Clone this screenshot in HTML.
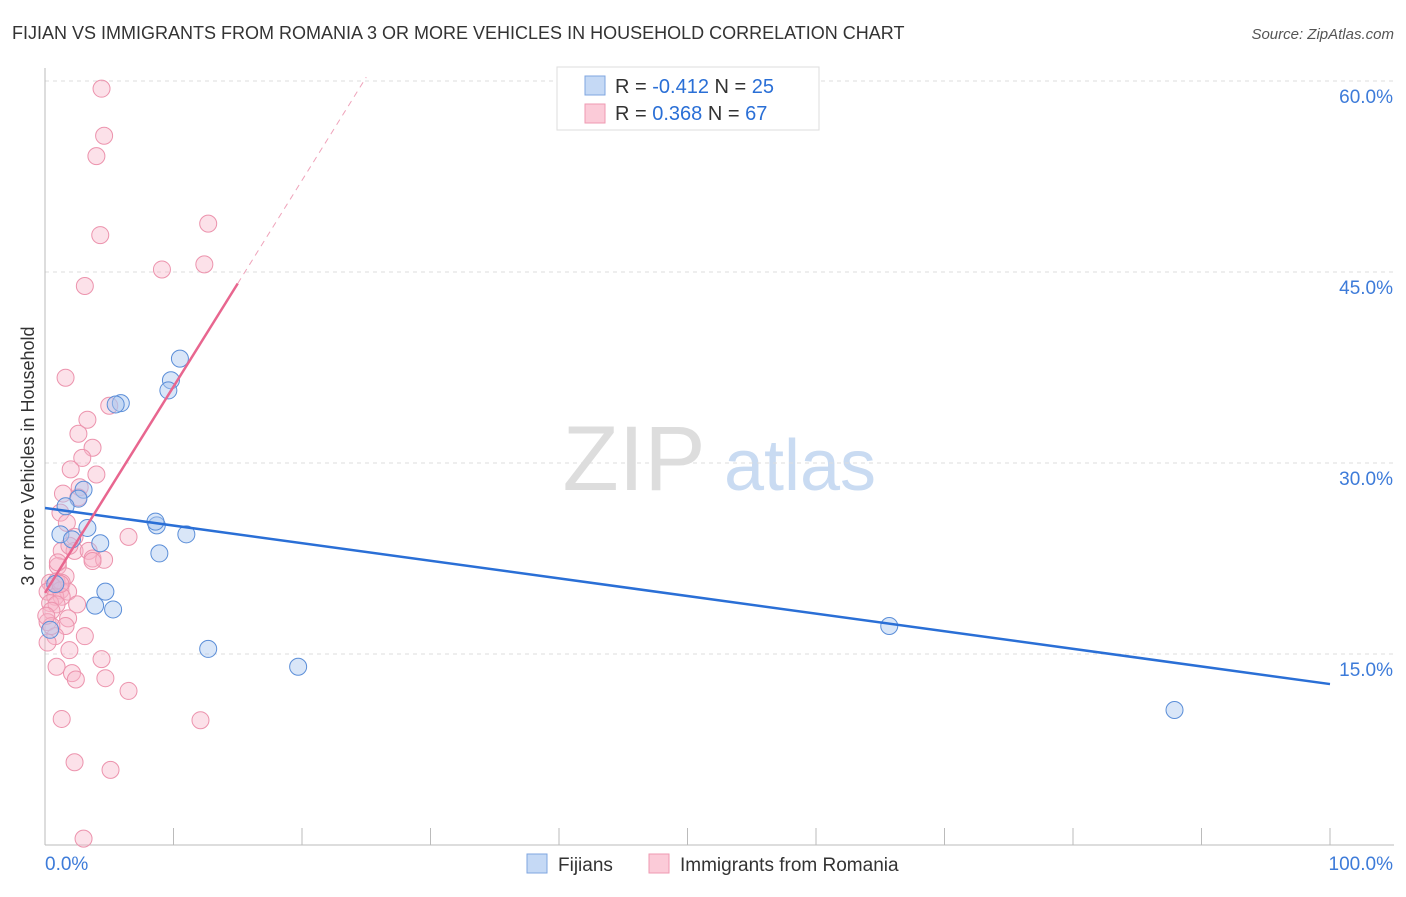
<!DOCTYPE html>
<html><head><meta charset="utf-8"><style>
body{margin:0;background:#fff;font-family:"Liberation Sans",sans-serif}
svg text{font-family:"Liberation Sans",sans-serif}
</style></head><body>
<svg id="chart" width="1406" height="892" xmlns="http://www.w3.org/2000/svg">
<text x="12" y="39" font-size="18" fill="#333">FIJIAN VS IMMIGRANTS FROM ROMANIA 3 OR MORE VEHICLES IN HOUSEHOLD CORRELATION CHART</text>
<text x="1394" y="39" font-size="15" fill="#555" font-style="italic" text-anchor="end">Source: ZipAtlas.com</text>
<text transform="translate(34,456) rotate(-90)" font-size="18" fill="#333" text-anchor="middle">3 or more Vehicles in Household</text>
<g>
<text x="634" y="490" font-size="92" fill="#ddd" font-family="Liberation Serif,serif" text-anchor="middle">ZIP</text>
<text x="800" y="490" font-size="72" fill="#c9dbf2" text-anchor="middle">atlas</text>
</g>
<g id="grid"></g><g id="axes"></g><g id="marks"></g>
<g>
<rect x="557" y="67" width="262" height="63" fill="#fff" stroke="#ddd"/>
<rect x="585" y="76" width="20" height="19" fill="#c5d9f5" stroke="#7fa6e0"/>
<rect x="585" y="104" width="20" height="19" fill="#fbcbd8" stroke="#ef9ab2"/>
<text x="615" y="93" font-size="20" fill="#333">R = <tspan fill="#2a6fd6">-0.412</tspan>   N = <tspan fill="#2a6fd6">25</tspan></text>
<text x="615" y="120" font-size="20" fill="#333">R =  <tspan fill="#2a6fd6">0.368</tspan>   N = <tspan fill="#2a6fd6">67</tspan></text>
</g>
<g>
<rect x="527" y="854" width="20" height="19" fill="#c5d9f5" stroke="#7fa6e0"/>
<text x="558" y="871" font-size="19" fill="#333">Fijians</text>
<rect x="649" y="854" width="20" height="19" fill="#fbcbd8" stroke="#ef9ab2"/>
<text x="680" y="871" font-size="19" fill="#333">Immigrants from Romania</text>
</g>
</svg>
<script>
const yTicks=[15,30,45,60];
const yTickLabels=["15.0%","30.0%","45.0%","60.0%"];
const xTickLabels=["0.0%","100.0%"];
const fijX=[10.5,9.8,9.6,5.9,5.5,3.0,2.6,1.6,3.3,1.2,8.7,8.6,11.0,4.3,2.1,8.9,0.8,4.7,3.9,5.3,12.7,19.7,65.7,87.9,0.4];
const fijY=[38.2,36.5,35.7,34.7,34.6,27.9,27.2,26.6,24.9,24.4,25.1,25.4,24.4,23.7,24.0,22.9,20.5,19.9,18.8,18.5,15.4,14.0,17.2,10.6,16.9];
const romX=[4.4,4.6,4.0,12.7,4.3,12.4,9.1,3.1,1.6,5.0,3.3,2.6,3.7,2.9,2.0,4.0,1.4,2.7,2.6,1.2,1.7,2.3,6.5,1.3,2.3,3.4,3.7,4.6,1.0,1.6,0.4,0.9,1.3,0.6,1.2,0.2,1.8,0.8,1.3,0.4,0.9,2.5,1.8,0.5,0.2,1.6,0.8,3.1,0.2,1.9,0.9,4.4,2.1,2.4,4.7,6.5,1.3,12.1,2.3,5.1,3.0,3.7,1.0,1.9,0.5,0.1,1.2];
const romY=[59.4,55.7,54.1,48.8,47.9,45.6,45.2,43.9,36.7,34.5,33.4,32.3,31.2,30.4,29.5,29.1,27.6,28.1,27.3,26.1,25.3,24.2,24.2,23.1,23.1,23.1,22.5,22.4,21.9,21.1,20.6,20.7,20.6,20.3,20.0,19.9,19.9,19.5,19.5,19.0,18.9,18.9,17.8,18.4,17.5,17.2,16.4,16.4,15.9,15.3,14.0,14.6,13.5,13.0,13.1,12.1,9.9,9.8,6.5,5.9,0.5,22.3,22.2,23.5,17.2,18.0,20.5];
const fijLine=[26.47,12.64];
const romLine=[19.8,1.62];
const NS="http://www.w3.org/2000/svg";
const X=v=>45+v*12.85, Y=v=>845-v*12.733;
function mk(t,a,p){const e=document.createElementNS(NS,t);for(const k in a)e.setAttribute(k,a[k]);document.getElementById(p).appendChild(e);return e;}
yTicks.forEach((t,i)=>{
 const g=mk('line',{x1:45,x2:1394,y1:Y(t),y2:Y(t),stroke:'#ddd','stroke-dasharray':'4,4'},'grid');
 
 
 const l=mk('text',{x:1393,y:Y(t)+22,'font-size':19,fill:'#3d7bd9','text-anchor':'end'},'axes');
 l.textContent=yTickLabels[i];
 
 
});
const ax=mk('line',{x1:45,x2:45,y1:68,y2:845,stroke:'#bbb'},'axes');


const bx=mk('line',{x1:45,x2:1394,y1:845,y2:845,stroke:'#bbb'},'axes');


for(let i=0;i<=10;i++){const t=mk('line',{x1:X(i*10),x2:X(i*10),y1:828,y2:845,stroke:'#bbb'},'axes');
 
 }
[[0,'start',45],[100,'end',1393]].forEach((d,i)=>{const t=mk('text',{x:d[2],y:870,'font-size':19,fill:'#3d7bd9','text-anchor':d[1]},'axes');t.textContent=xTickLabels[i];
 
 });
romX.forEach((x,i)=>{const c=mk('circle',{cx:X(x),cy:Y(romY[i]),r:8.5,fill:'rgba(248,180,200,0.4)',stroke:'#ec93ad','stroke-width':1},'marks');
 
 });
fijX.forEach((x,i)=>{const c=mk('circle',{cx:X(x),cy:Y(fijY[i]),r:8.5,fill:'rgba(170,200,240,0.45)',stroke:'#5b8ed8','stroke-width':1},'marks');
 
 });
const fl=mk('line',{x1:X(0),y1:Y(fijLine[0]),x2:X(100),y2:Y(fijLine[1]),stroke:'#2a6fd6','stroke-width':2.5},'marks');


const rl=mk('line',{x1:X(0),y1:Y(romLine[0]),x2:X(15),y2:Y(romLine[0]+15*romLine[1]),stroke:'#e8668f','stroke-width':2.5},'marks');


const rd=mk('line',{x1:X(15),y1:Y(romLine[0]+15*romLine[1]),x2:X(25),y2:Y(romLine[0]+25*romLine[1]),stroke:'#efa3ba','stroke-width':1,'stroke-dasharray':'6,5'},'marks');


</script>
</body></html>
